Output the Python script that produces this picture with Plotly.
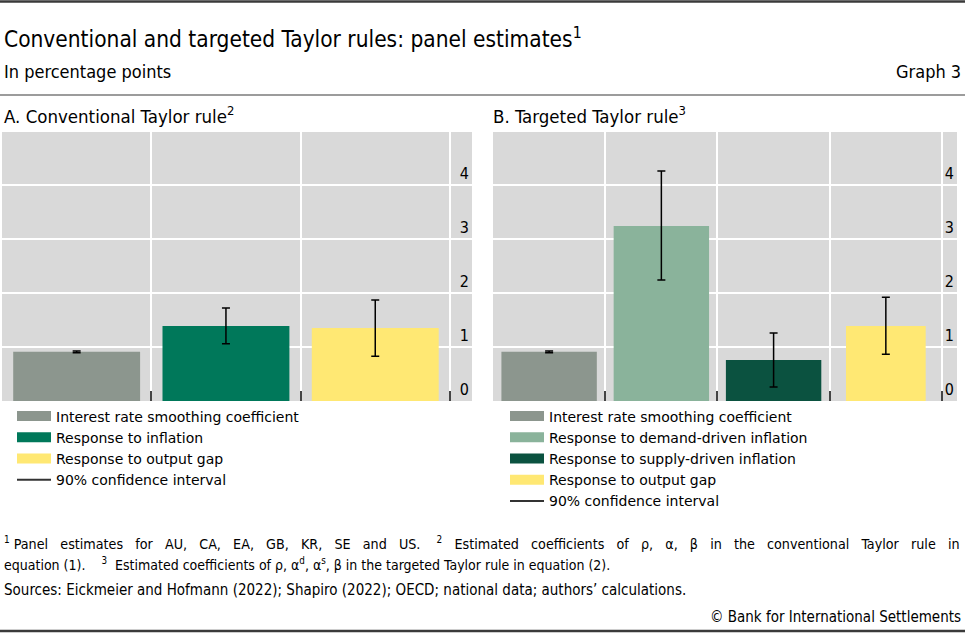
import plotly.graph_objects as go

# ---------------- data ----------------
cats_a = ["Interest rate smoothing coefficient", "Response to inflation", "Response to output gap"]
vals_a = [0.91, 1.39, 1.35]
upper_a = [0.925, 1.72, 1.87]
lower_a = [0.895, 1.06, 0.83]

cats_b = ["Interest rate smoothing coefficient", "Response to demand-driven inflation",
          "Response to supply-driven inflation", "Response to output gap"]
vals_b = [0.91, 3.24, 0.76, 1.39]
upper_b = [0.925, 4.26, 1.26, 1.92]
lower_b = [0.895, 2.24, 0.26, 0.865]

ytick_vals = [0, 1, 2, 3, 4]
ci_label = "90% confidence interval"

# ---------------- style ----------------
colors_a = ["#8c968e", "#00785a", "#ffe873"]
colors_b = ["#8c968e", "#8ab39b", "#0b5240", "#ffe873"]
widths_a = [0.85, 0.85, 0.85]
widths_b = [0.85, 0.85, 0.85, 0.71]

FONT = "DejaVu Sans Condensed, DejaVu Sans, sans-serif"
LFONT = "DejaVu Sans, sans-serif"
W, H = 965, 633
PL, PR, PT, PB = 2, 957, 132, 401


def xp(px):
    return (px - PL) / (PR - PL)


def yp(py):
    return (PB - py) / (PB - PT)


fig = go.Figure()


def add_panel(cats, vals, upper, lower, colors, widths, xaxis, yaxis, legend):
    xs = list(range(len(cats)))
    for i, c in enumerate(cats):
        fig.add_trace(go.Bar(
            x=[xs[i]], y=[vals[i]], width=[widths[i]],
            marker=dict(color=colors[i], line=dict(width=0)),
            error_y=dict(type="data", symmetric=False,
                         array=[upper[i] - vals[i]], arrayminus=[vals[i] - lower[i]],
                         color="#000000", thickness=1.5, width=4),
            xaxis=xaxis, yaxis=yaxis, showlegend=False, hoverinfo="skip"))
        # legend proxy (wide rectangle swatch)
        fig.add_trace(go.Scatter(
            x=[None], y=[None], mode="lines", name=c,
            line=dict(color=colors[i], width=12),
            xaxis=xaxis, yaxis=yaxis, legend=legend))
    fig.add_trace(go.Scatter(
        x=[None], y=[None], mode="lines", name=ci_label,
        line=dict(color="#333333", width=2),
        xaxis=xaxis, yaxis=yaxis, legend=legend))


add_panel(cats_a, vals_a, upper_a, lower_a, colors_a, widths_a, "x", "y", "legend")
add_panel(cats_b, vals_b, upper_b, lower_b, colors_b, widths_b, "x2", "y2", "legend2")

axis_common_x = dict(showgrid=True, gridcolor="white", gridwidth=1.5, zeroline=False,
                     showline=False, ticks="inside", ticklen=10, tickwidth=1.5,
                     tickcolor="#444444", showticklabels=False, fixedrange=True)
axis_common_y = dict(range=[0, 4.98], tickvals=ytick_vals, side="right",
                     ticklabelposition="inside top", showgrid=True, gridcolor="white",
                     gridwidth=1.5, zeroline=False, showline=False, ticks="",
                     tickfont=dict(family=FONT, size=16, color="#000000"))

legend_common = dict(xanchor="left", yanchor="top", bgcolor="rgba(0,0,0,0)",
                     font=dict(family=LFONT, size=14, color="#000000"),
                     itemwidth=34, itemclick=False, itemdoubleclick=False)

fig.update_layout(
    width=W, height=H,
    margin=dict(l=PL, r=W - PR, t=PT, b=H - PB),
    paper_bgcolor="white",
    plot_bgcolor="#d9d9d9",
    font=dict(family=FONT, size=16, color="#000000"),
    barmode="overlay",
    xaxis=dict(domain=[0, xp(472)], range=[-0.5, 2.648],
               tickvals=[-0.5, 0.5, 1.5, 2.5], **axis_common_x),
    yaxis=dict(anchor="x", **axis_common_y),
    xaxis2=dict(domain=[xp(493), 1], range=[-0.5, 3.634],
                tickvals=[-0.5, 0.5, 1.5, 2.5, 3.5], **axis_common_x),
    yaxis2=dict(anchor="x2", **axis_common_y),
    legend=dict(x=xp(12), y=yp(400.5), **legend_common),
    legend2=dict(x=xp(505), y=yp(400.5), **legend_common),
)

# separator lines
for y0, wdt in [(1.5, 2.5), (95, 1.2), (631, 2.5)]:
    fig.add_shape(type="line", xref="paper", yref="paper",
                  x0=xp(0), x1=xp(W), y0=yp(y0), y1=yp(y0),
                  line=dict(color="#3a3a3a", width=wdt))


def ann(text, x, y, size, xanchor="left"):
    fig.add_annotation(text=text, xref="paper", yref="paper", x=xp(x), y=yp(y),
                       xanchor=xanchor, yanchor="middle", showarrow=False,
                       font=dict(family=FONT, size=size, color="#000000"), align="left")


GAP = " \u00a0\u00a0"
fn1_words = ["<sup>1</sup>", "Panel", "estimates", "for", "AU,", "CA,", "EA,", "GB,", "KR,",
             "SE", "and", "US.\u00a0", "<sup>2</sup>", "Estimated", "coefficients", "of", "ρ,",
             "α,", "β", "in", "the", "conventional", "Taylor", "rule", "in"]
fn1 = fn1_words[0] + " " + GAP.join(fn1_words[1:])
fn2 = ("equation (1).\u00a0\u00a0\u00a0 <sup>3</sup>\u00a0 Estimated coefficients of "
       "ρ, α<sup>d</sup>, α<sup>s</sup>, β in the targeted Taylor rule in equation (2).")

ann("Conventional and targeted Taylor rules: panel estimates<sup>1</sup>", 2, 37, 22.5)
ann("In percentage points", 2, 71, 18)
ann("Graph 3", 963, 71, 18, xanchor="right")
ann("A. Conventional Taylor rule<sup>2</sup>", 2, 115, 18.5)
ann("B. Targeted Taylor rule<sup>3</sup>", 491, 115, 18.5)
ann(fn1, 2, 543, 14.2)
ann(fn2, 2, 564, 14)
ann("Sources: Eickmeier and Hofmann (2022); Shapiro (2022); OECD; national data; authors’ calculations.",
    2, 590, 15)
ann("© Bank for International Settlements", 963, 617, 15, xanchor="right")

fig.write_html("out.html", config={"displayModeBar": False},
               post_script="document.body.style.margin='0px';")
